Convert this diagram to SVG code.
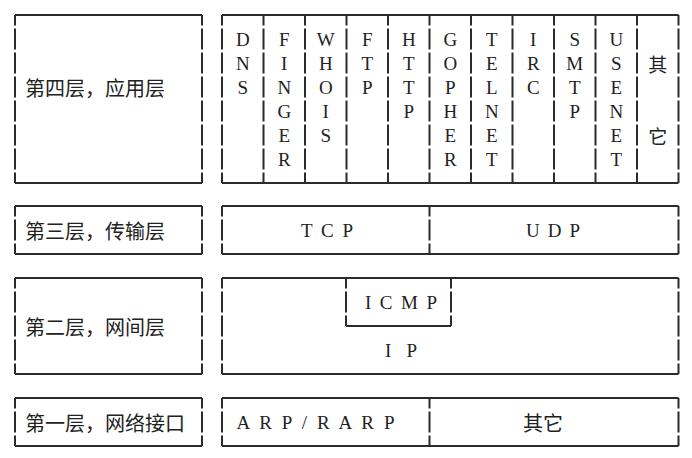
<svg xmlns="http://www.w3.org/2000/svg" width="692" height="458" viewBox="0 0 692 458">
<style>
.h{stroke:#2b2b2b;stroke-width:2;fill:none}
.v{stroke:#2b2b2b;stroke-width:2;fill:none;stroke-dasharray:21 3;stroke-dashoffset:10.5}
.lbl{font-family:"Noto Sans CJK SC","Noto Sans CJK JP",sans-serif;font-size:20px;fill:#222;dominant-baseline:central}
.mono{font-family:"Liberation Serif","DejaVu Serif",serif;font-size:19px;fill:#222;dominant-baseline:central}
.c{text-anchor:middle}
</style>
<rect width="692" height="458" fill="#fff"/>

<!-- Layer 4 -->
<g id="layer4-label">
<path class="h" d="M15 15H202M15 183H202"/>
<path class="v" d="M15 15V183M202 15V183"/>
<text class="lbl" x="25" y="87">第四层，应用层</text>
</g>
<g id="layer4-apps">
<path class="h" d="M222 15H678.5M222 183H678.5"/>
<path class="v" d="M222 15V183M263.5 15V183M305 15V183M346.5 15V183M388 15V183M429.5 15V183M471 15V183M512.5 15V183M554 15V183M595.5 15V183M637 15V183M678.5 15V183"/>
<text class="mono c"><tspan x="242.75" y="39">D</tspan><tspan x="242.75" y="63">N</tspan><tspan x="242.75" y="87">S</tspan></text>
<text class="mono c"><tspan x="284.25" y="39">F</tspan><tspan x="284.25" y="63">I</tspan><tspan x="284.25" y="87">N</tspan><tspan x="284.25" y="111">G</tspan><tspan x="284.25" y="135">E</tspan><tspan x="284.25" y="159">R</tspan></text>
<text class="mono c"><tspan x="325.75" y="39">W</tspan><tspan x="325.75" y="63">H</tspan><tspan x="325.75" y="87">O</tspan><tspan x="325.75" y="111">I</tspan><tspan x="325.75" y="135">S</tspan></text>
<text class="mono c"><tspan x="367.25" y="39">F</tspan><tspan x="367.25" y="63">T</tspan><tspan x="367.25" y="87">P</tspan></text>
<text class="mono c"><tspan x="408.75" y="39">H</tspan><tspan x="408.75" y="63">T</tspan><tspan x="408.75" y="87">T</tspan><tspan x="408.75" y="111">P</tspan></text>
<text class="mono c"><tspan x="450.25" y="39">G</tspan><tspan x="450.25" y="63">O</tspan><tspan x="450.25" y="87">P</tspan><tspan x="450.25" y="111">H</tspan><tspan x="450.25" y="135">E</tspan><tspan x="450.25" y="159">R</tspan></text>
<text class="mono c"><tspan x="491.75" y="39">T</tspan><tspan x="491.75" y="63">E</tspan><tspan x="491.75" y="87">L</tspan><tspan x="491.75" y="111">N</tspan><tspan x="491.75" y="135">E</tspan><tspan x="491.75" y="159">T</tspan></text>
<text class="mono c"><tspan x="533.25" y="39">I</tspan><tspan x="533.25" y="63">R</tspan><tspan x="533.25" y="87">C</tspan></text>
<text class="mono c"><tspan x="574.75" y="39">S</tspan><tspan x="574.75" y="63">M</tspan><tspan x="574.75" y="87">T</tspan><tspan x="574.75" y="111">P</tspan></text>
<text class="mono c"><tspan x="616.25" y="39">U</tspan><tspan x="616.25" y="63">S</tspan><tspan x="616.25" y="87">E</tspan><tspan x="616.25" y="111">N</tspan><tspan x="616.25" y="135">E</tspan><tspan x="616.25" y="159">T</tspan></text>
<text class="lbl c" style="font-size:19px"><tspan x="657.75" y="63">其</tspan><tspan x="657.75" y="135">它</tspan></text>
</g>

<!-- Layer 3 -->
<g id="layer3-label">
<path class="h" d="M15 206H202M15 254H202"/>
<path class="v" d="M15 206V254M202 206V254"/>
<text class="lbl" x="25" y="230">第三层，传输层</text>
</g>
<g id="layer3-proto">
<path class="h" d="M222 206H678.5M222 254H678.5"/>
<path class="v" d="M222 206V254M429.5 206V254M678.5 206V254"/>
<text class="mono" x="301" y="230" textLength="52" lengthAdjust="spacing">T C P</text>
<text class="mono" x="526" y="230" textLength="54" lengthAdjust="spacing">U D P</text>
</g>

<!-- Layer 2 -->
<g id="layer2-label">
<path class="h" d="M15 278H202M15 374H202"/>
<path class="v" d="M15 278V374M202 278V374"/>
<text class="lbl" x="25" y="326">第二层，网间层</text>
</g>
<g id="layer2-ip">
<path class="h" d="M222 278H678.5M222 374H678.5"/>
<path class="v" d="M222 278V374M678.5 278V374"/>
<text class="mono" x="385" y="350" textLength="32" lengthAdjust="spacing">I P</text>
</g>
<g id="icmp">
<path class="h" d="M346 326H451"/>
<path class="v" d="M346 278V326M451 278V326"/>
<text class="mono" x="365" y="302" textLength="72" lengthAdjust="spacing">I C M P</text>
</g>

<!-- Layer 1 -->
<g id="layer1-label">
<path class="h" d="M15 398H202M15 446H202"/>
<path class="v" d="M15 398V446M202 398V446"/>
<text class="lbl" x="25" y="422">第一层，网络接口</text>
</g>
<g id="layer1-proto">
<path class="h" d="M222 398H678.5M222 446H678.5"/>
<path class="v" d="M222 398V446M429.5 398V446M678.5 398V446"/>
<text class="mono" x="236.5" y="422" textLength="158" lengthAdjust="spacing">A R P / R A R P</text>
<text class="lbl c" x="543" y="422">其它</text>
</g>
</svg>
